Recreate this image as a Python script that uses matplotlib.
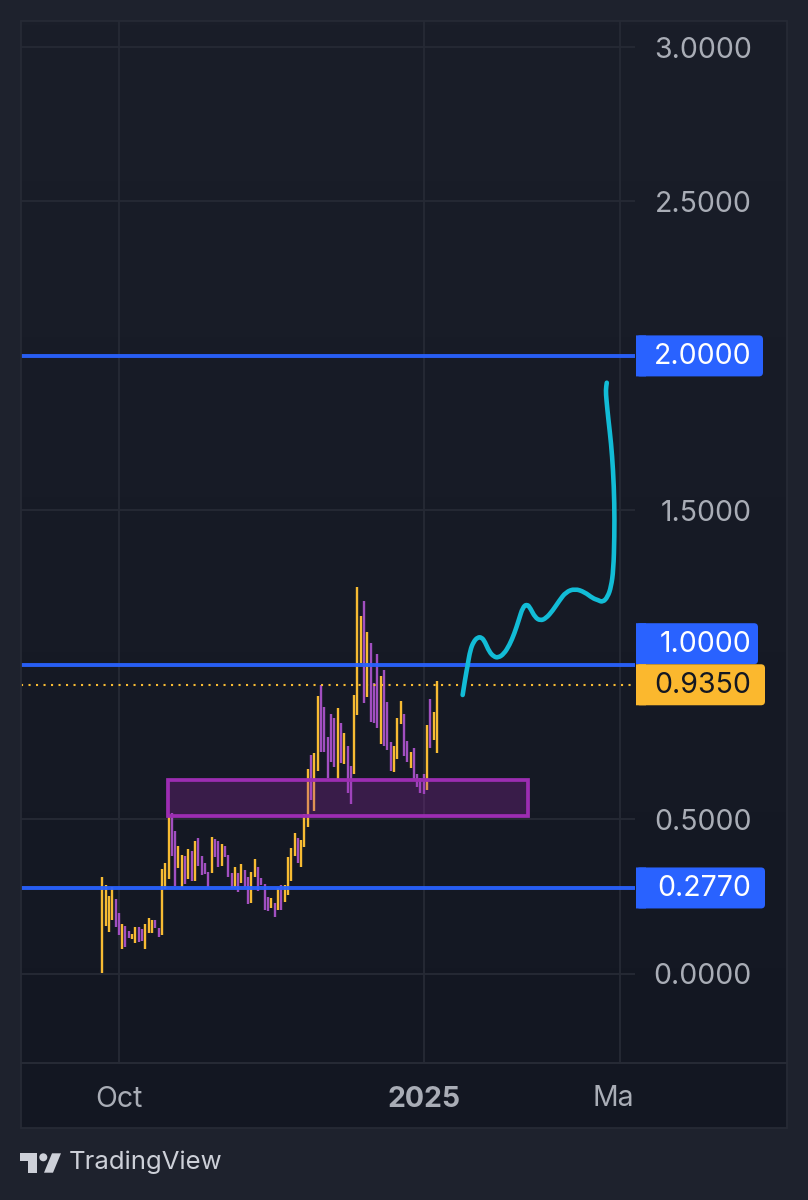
import matplotlib
matplotlib.use("Agg")
import matplotlib.pyplot as plt
import numpy as np
from matplotlib.colors import LinearSegmentedColormap
from matplotlib.patches import Circle, FancyBboxPatch, PathPatch, Polygon, Rectangle
from matplotlib.path import Path
from matplotlib.transforms import Affine2D

plt.rcParams['font.family'] = ['Inter', 'DejaVu Sans']

# daily bars, first one is 5 days before 1 Oct (x = days since 1 Oct)
first_day = -5.03
bar_high = [
    .3136, .2866, .2510, .2812, .2402, .1948, .1603, .1549, .1376, .1279,
    .1495, .1495, .1430, .1603, .1786, .1733, .1733, .1463, .3373, .3568,
    .5100, .5187, .4625, .4129, .3837, .3805, .4021, .3978, .4291, .4377,
    .3805, .3589, .3276, .4409, .4345, .4291, .4194, .4129, .3837, .3244,
    .3460, .3244, .3546, .3352, .3136, .3276, .3708, .3438, .3103, .2898,
    .2467, .2445, .2272, .2780, .2866, .2855, .3783, .4053, .4561, .4377,
    .4323, .5154, .6612,
    .7076, .7130, .8987, .9343, .8641, .7648, .8404, .8263, .8587, .8123,
    .7778, .7367, .6720, .9030, 1.2506, 1.1577, 1.2063, 1.1070, 1.0692, .9397,
    1.0347, .9645, .9829, .8782, .7508, .7367, .8263, .8835, .8404, .7530,
    .7184, .7292, .6461, .6321, .6461, .8037, .8879, .8479, .9472,
]
bar_low = [
    .0005, .1549, .1344, .1733, .1517, .1247, .0783, .0869, .1139, .1106,
    .0977, .1031, .1063, .0793, .1322, .1301, .1463, .1193, .1258, .2726,
    .3071, .3805, .2833, .3427, .2790, .2898, .3049, .2995, .2995, .3481,
    .3190, .3222, .2812, .3265, .3783, .3438, .3481, .3762, .3114, .2758,
    .2790, .2650, .2941, .2812, .2240, .2272, .3136, .2682, .2866, .2056,
    .2024, .2121, .1819, .2056, .2056, .2326, .2553, .3006, .3805, .3589,
    .3460, .4107, .4755,
    .5619, .5273, .6558, .7162, .7184, .6342, .6860, .6698, .6288, .6828,
    .6785, .5835, .5490, .6450, .8371, 1.0045, .8749, .8944, .8156, .8102,
    .7940, .7432, .7378, .7238, .6558, .6536, .6957, .8080, .7044, .6839,
    .6644, .6299, .6051, .5835, .5813, .5943, .7314, .7562, .7152,
]
bar_dir = list(
    "ggggppgppggppgggppgggppggpgpgppppgppgpppgpgppggppppgpgpggggpggg"
    "pggpppppgpgppgggpgpppgpppgggppgpppp" "gpgg"
)

price_ticks = [0, 0.5, 1.0, 1.5, 2.0, 2.5, 3.0]
# 1.0 and 2.0 sit under the price tags, so no tick text there
price_labels = ["0.0000", "0.5000", "", "1.5000", "", "2.5000", "3.0000"]
date_ticks = [0, 92, 151]
date_labels = ["Oct", "2025", ""]

levels = [2.0, 1.0, 0.277]
last_price = 0.935
zone_days = [14.8, 123.2]
zone_prices = [0.51, 0.6266]

# hand drawn arrow path
path_day = [103.5, 104.2, 105.0, 105.8, 106.8, 108.0, 109.2, 110.2, 111.5, 112.9,
            114.2, 115.9, 117.6, 119.1, 120.4, 121.6, 122.9, 123.9, 125.3, 126.9,
            128.6, 130.6, 132.6, 134.6, 137.3, 140.2, 142.7, 144.2, 145.7, 147.2,
            148.2, 148.9, 149.2, 149.2, 148.8, 148.2, 147.4, 146.8, 146.6, 146.9]
path_price = [.9019, .9505, .9990, 1.0476, 1.0745, 1.0887, 1.0887, 1.0745, 1.0421, 1.0259,
              1.0227, 1.0346, 1.0638, 1.1017, 1.1447, 1.1859, 1.1966, 1.1826, 1.1535, 1.1425,
              1.1503, 1.1749, 1.2073, 1.2354, 1.2461, 1.2354, 1.2150, 1.2095, 1.2021, 1.2202,
              1.2526, 1.3067, 1.4145, 1.5227, 1.6305, 1.7170, 1.7924, 1.8572, 1.8896, 1.9132]

OUTER = "#1e222d"
GRID = "#262a35"
GOLD = "#f7bb33"
PURPLE = "#a14fc0"
BLUE = "#2962ff"
CYAN = "#12bcd6"
TEXT = "#a9adb6"

W, H = 808, 1200
fig = plt.figure(figsize=(W / 100, H / 100), dpi=100, facecolor=OUTER)
# pixel coordinates, y going down like the screenshot
px = Affine2D().scale(1 / W, -1 / H).translate(0, 1) + fig.transFigure


def axes_box(x0, y0, x1, y1):
    return [x0 / W, 1 - y1 / H, (x1 - x0) / W, (y1 - y0) / H]


# panel background has a slight top to bottom gradient
bg = fig.add_axes(axes_box(21, 21, 787, 1128), zorder=0)
cmap = LinearSegmentedColormap.from_list("panel", ["#1a1e29", "#131722"])
bg.imshow(np.linspace(0, 1, 256).reshape(-1, 1), cmap=cmap, aspect="auto")
bg.axis("off")

ax = fig.add_axes(axes_box(21, 21, 635, 1063), zorder=1)
ax.patch.set_alpha(0)
ax.set_xlim(-29.5, 155.4)
ax.set_ylim(-0.2898, 3.0845)
for s in ax.spines.values():
    s.set_visible(False)
ax.grid(True, color=GRID, lw=1.3)
ax.set_axisbelow(True)

ax.yaxis.tick_right()
ax.set_yticks(price_ticks)
ax.set_yticklabels(price_labels, fontsize=20.5, color=TEXT, ha="right")
ax.tick_params(axis="y", length=0, pad=84)
ax.set_xticks(date_ticks)
ax.set_xticklabels(date_labels, fontsize=20.5, color=TEXT)
ax.tick_params(axis="x", length=0, pad=16.5)
ax.get_xticklabels()[1].set_fontweight("bold")
# the March label is cut off in the original
fig.text(613.5 / W, 1 - 1099 / H, "Ma", fontsize=20.5, color=TEXT, ha="center", va="center", zorder=5)

days = first_day + np.arange(len(bar_high)) * 3.314 / 3.32
colors = [GOLD if d == "g" else PURPLE for d in bar_dir]
ax.vlines(days, bar_low, bar_high, colors=colors, lw=1.7, zorder=2)

ax.axhline(last_price, color=GOLD, lw=1.5, ls=(0, (1, 2.6)), zorder=3)
ax.add_patch(Rectangle((zone_days[0], zone_prices[0]), zone_days[1] - zone_days[0],
                       zone_prices[1] - zone_prices[0], fc=(0.61, 0.15, 0.69, 0.27),
                       ec="#9c2db2", lw=2.7, zorder=4))
for lev in levels:
    ax.axhline(lev, color=BLUE, lw=2.8, alpha=0.95, zorder=5)

# pen stroke: quadratic segments through the read points so it stays smooth
pts = np.column_stack([path_day, path_price])
mids = (pts[:-1] + pts[1:]) / 2
verts = [pts[0], mids[0]]
codes = [Path.MOVETO, Path.LINETO]
for i in range(1, len(pts) - 1):
    verts += [pts[i], mids[i]]
    codes += [Path.CURVE3, Path.CURVE3]
verts.append(pts[-1])
codes.append(Path.LINETO)
ax.add_patch(PathPatch(Path(verts, codes), fc="none", ec=CYAN, lw=3.3,
                       capstyle="round", joinstyle="round", zorder=6))


# price tags on the right
def tag(price, right, color, tcolor, shift=0):
    y = 973.5 - price * 308.8 + shift
    fig.add_artist(FancyBboxPatch((636, y - 20.5), right - 636, 41,
                                  boxstyle="round,pad=0,rounding_size=4", fc=color, ec="none",
                                  transform=px, zorder=6, snap=False))
    fig.add_artist(Rectangle((636, y - 20.5), 10, 41, fc=color, ec="none", transform=px,
                             zorder=6, snap=False))
    fig.text(751.5 / W, 1 - (y + 1) / H, f"{price:.4f}", fontsize=20.5, color=tcolor,
             ha="right", va="center", zorder=7)


tag(levels[0], 763, BLUE, "white")
tag(levels[1], 758, BLUE, "white", shift=-21)
tag(levels[2], 765, BLUE, "white")
tag(last_price, 765, "#fbb82e", "#131722")

# frame and time axis divider
fig.add_artist(Rectangle((21, 21), 766, 1107, fc="none", ec=GRID, lw=1.3, transform=px, zorder=4))
fig.add_artist(plt.Line2D([21, 787], [1063, 1063], color=GRID, lw=1.5, transform=px, zorder=4))

# TradingView logo
logo = "#cdd0d8"
fig.add_artist(Polygon([(20, 1153.3), (36.7, 1153.3), (36.7, 1172.7), (28.3, 1172.7),
                        (28.3, 1160.7), (20, 1160.7)], fc=logo, ec="none", transform=px))
fig.add_artist(Circle((43.3, 1157.3), 4, fc=logo, ec="none", transform=px))
fig.add_artist(Polygon([(52, 1153.3), (61, 1153.3), (53, 1172.7), (44, 1172.7)],
                       fc=logo, ec="none", transform=px))
fig.text(68.5 / W, 1 - 1162 / H, "TradingView", fontsize=18.5, color=logo, ha="left", va="center")

fig.savefig("out.png", dpi=100, facecolor=OUTER)
